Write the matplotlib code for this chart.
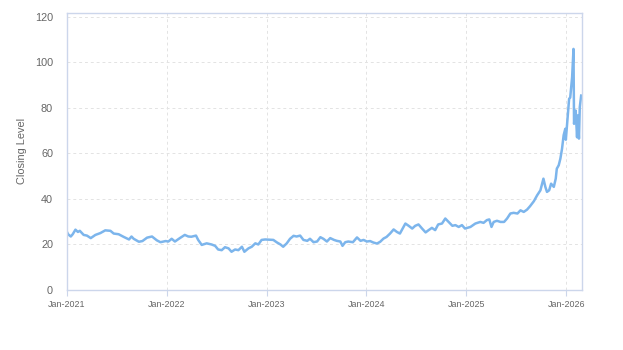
import matplotlib
matplotlib.use('Agg')
import matplotlib.pyplot as plt
import matplotlib.dates as mdates
import pandas as pd

# closing levels
dates = [
    '2021-01-01', '2021-01-05', '2021-01-15', '2021-01-22', '2021-02-01', '2021-02-10',
    '2021-02-17', '2021-03-03', '2021-03-15', '2021-03-29', '2021-04-15', '2021-05-03',
    '2021-05-21', '2021-06-09', '2021-06-21', '2021-07-09', '2021-07-28', '2021-08-16',
    '2021-08-25', '2021-09-02', '2021-09-21', '2021-10-04', '2021-10-21', '2021-11-08',
    '2021-11-26', '2021-12-09', '2021-12-28',
    '2022-01-07', '2022-01-19', '2022-01-31', '2022-02-18', '2022-03-08', '2022-03-21',
    '2022-04-01', '2022-04-18', '2022-04-26', '2022-05-09', '2022-05-27', '2022-06-14',
    '2022-06-27', '2022-07-08', '2022-07-21', '2022-08-02', '2022-08-15', '2022-08-26',
    '2022-09-08', '2022-09-20', '2022-10-03', '2022-10-12', '2022-10-27', '2022-11-08',
    '2022-11-21', '2022-12-02', '2022-12-14', '2022-12-27',
    '2023-01-13', '2023-01-26', '2023-02-08', '2023-02-21', '2023-03-03', '2023-03-16',
    '2023-03-28', '2023-04-10', '2023-04-21', '2023-05-04', '2023-05-16', '2023-05-30',
    '2023-06-09', '2023-06-22', '2023-07-05', '2023-07-17', '2023-07-28', '2023-08-10',
    '2023-08-22', '2023-09-05', '2023-09-15', '2023-09-28', '2023-10-06', '2023-10-16',
    '2023-10-27', '2023-11-13', '2023-11-28', '2023-12-11', '2023-12-22',
    '2024-01-03', '2024-01-15', '2024-01-26', '2024-02-09', '2024-02-21', '2024-03-04',
    '2024-03-15', '2024-03-28', '2024-04-10', '2024-04-22', '2024-05-03', '2024-05-16',
    '2024-05-23', '2024-06-04', '2024-06-17', '2024-06-28', '2024-07-10', '2024-07-23',
    '2024-08-05', '2024-08-16', '2024-08-28', '2024-09-09', '2024-09-20', '2024-10-04',
    '2024-10-16', '2024-10-28', '2024-11-11', '2024-11-22', '2024-12-04', '2024-12-16',
    '2024-12-27',
    '2025-01-16', '2025-02-03', '2025-02-21', '2025-03-05', '2025-03-17', '2025-03-26',
    '2025-04-03', '2025-04-11', '2025-04-23', '2025-05-06', '2025-05-19', '2025-05-30',
    '2025-06-11', '2025-06-23', '2025-07-07', '2025-07-18', '2025-07-30', '2025-08-11',
    '2025-08-22', '2025-09-05', '2025-09-17', '2025-09-29', '2025-10-10', '2025-10-17',
    '2025-10-23', '2025-10-31', '2025-11-07', '2025-11-17', '2025-11-24', '2025-11-28',
    '2025-12-05', '2025-12-11', '2025-12-17', '2025-12-23', '2025-12-29', '2025-12-31',
    '2026-01-06', '2026-01-12', '2026-01-16', '2026-01-23', '2026-01-28', '2026-01-30',
    '2026-02-05', '2026-02-10', '2026-02-13', '2026-02-17', '2026-02-20', '2026-02-25',
]
closing = [
    25.5, 24.5, 23.5, 24.5, 26.5, 25.5,
    26.0, 24.2, 23.9, 22.8, 24.2, 25.0,
    26.2, 26.0, 24.8, 24.5, 23.3, 22.2,
    23.5, 22.5, 21.2, 21.5, 23.0, 23.5,
    21.8, 21.0, 21.5,
    21.3, 22.5, 21.3, 22.8, 24.2, 23.5,
    23.4, 23.9, 22.0, 19.8, 20.5, 20.0,
    19.4, 17.8, 17.5, 18.8, 18.3, 16.8,
    17.8, 17.5, 19.0, 16.8, 18.3, 19.0,
    20.5, 20.0, 22.0, 22.2,
    22.1, 22.0, 20.9, 20.0, 19.0, 20.5,
    22.5, 23.8, 23.5, 23.9, 22.0, 21.6,
    22.5, 21.0, 21.3, 23.2, 22.5, 21.3,
    22.8, 22.0, 21.6, 21.3, 19.4, 21.0,
    21.3, 21.0, 23.1, 21.6, 22.0,
    21.3, 21.5, 20.9, 20.4, 21.2, 22.6,
    23.3, 24.8, 26.6, 25.5, 24.8, 27.7,
    29.2, 28.2, 27.0, 28.2, 28.8, 27.0,
    25.3, 26.3, 27.3, 26.3, 28.8, 29.2,
    31.4, 29.9, 28.2, 28.5, 27.7, 28.5,
    27.0,
    27.7, 29.2, 29.9, 29.5, 30.7, 31.0,
    27.7, 29.9, 30.4, 29.9, 29.9, 31.4,
    33.6, 33.9, 33.6, 35.0, 34.3, 35.3,
    36.8, 39.0, 41.6, 43.8, 48.9, 45.3,
    43.1, 43.8, 46.7, 45.3, 48.9, 53.3,
    54.8, 57.7, 62.0, 68.0, 70.8, 66.0,
    75.2, 84.0, 84.5, 93.5, 105.9, 73.0,
    78.8, 67.1, 76.7, 66.5, 80.3, 85.4,
]
y_ticks = [0, 20, 40, 60, 80, 100, 120]

x = pd.to_datetime(dates)

plt.rcParams['font.family'] = ['Liberation Sans', 'DejaVu Sans']
fig = plt.figure(figsize=(6.23, 3.5), dpi=100)
ax = fig.add_axes([0.1075, 0.1714, 0.8262, 0.7923])

ax.plot(x, closing, color='#7cb5ec', linewidth=1.8, solid_joinstyle='round')

ax.set_xlim(pd.Timestamp('2021-01-01'), pd.Timestamp('2026-02-27'))
ax.set_ylim(0, 121.8)
ax.set_yticks(y_ticks)
ax.xaxis.set_major_locator(mdates.YearLocator())
ax.xaxis.set_major_formatter(mdates.DateFormatter('%b-%Y'))

ax.grid(True, color='#e3e3e3', linestyle=(0, (3, 3)), linewidth=0.7)
ax.set_axisbelow(True)
for s in ax.spines.values():
    s.set_color('#ccd6eb')
    s.set_linewidth(1)

ax.tick_params(axis='y', length=0, pad=10, labelsize=7.8, labelcolor='#666666')
ax.tick_params(axis='x', length=4, color='#ccd6eb', pad=3, labelsize=6.4, labelcolor='#666666')
ax.set_ylabel('Closing Level', fontsize=7.9, color='#666666', labelpad=5.5)

fig.savefig('out.png', dpi=100)
